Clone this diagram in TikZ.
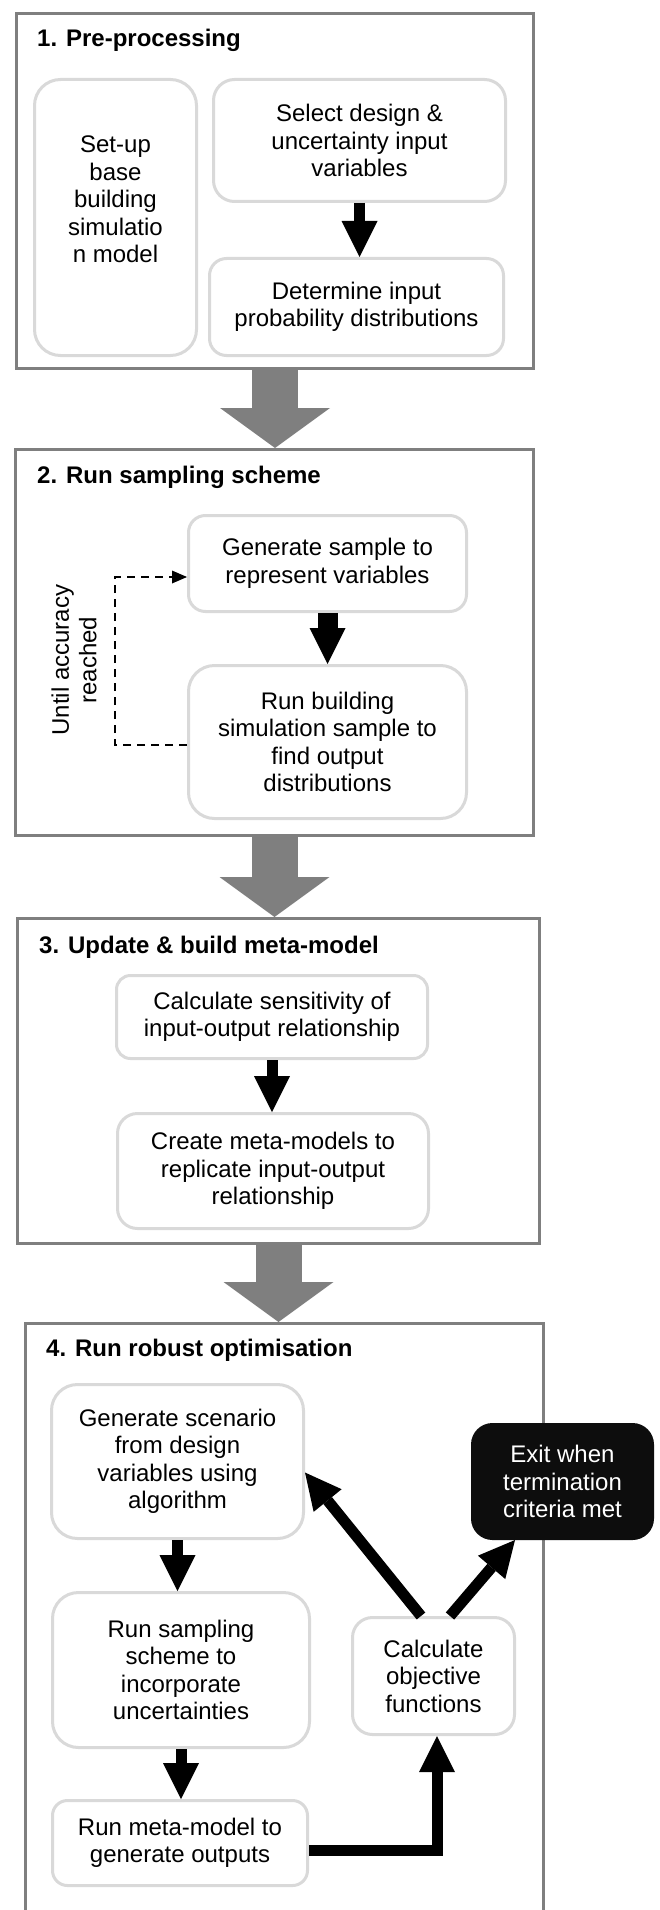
\documentclass[tikz,border=0pt]{standalone}
\usepackage{fontspec}
\setmainfont{Liberation Sans}
\usepackage{tikz}
\usetikzlibrary{calc,arrows.meta,positioning}
\definecolor{framex}{HTML}{7F7F7F}
\definecolor{edgex}{HTML}{D9D9D9}
\definecolor{darkx}{HTML}{0D0D0D}
\tikzset{
  stage/.style={draw=framex,line width=3pt,fill=white,inner sep=0pt},
  hd/.style={anchor=base west,inner sep=0pt,font=\fontsize{24}{27.5}\selectfont\bfseries},
  pb/.style={draw=edgex,line width=3pt,fill=white,align=center,inner sep=0pt},
  xb/.style={draw=darkx,fill=darkx,line width=3pt,text=white,align=center,inner sep=0pt},
  ga/.style={-{Triangle[length=40pt,width=110pt,line width=0pt]},line width=46pt,framex},
  ba/.style={-{Triangle[length=36pt,width=36pt,line width=0pt]},line width=11pt},
  da/.style={-{Triangle[length=15pt,width=13pt,line width=0pt]},line width=2pt,dash pattern=on 8pt off 6pt}
}

\begin{document}
\begin{tikzpicture}[x=1pt,y=-1pt,font=\fontsize{24}{27.5}\selectfont]
\useasboundingbox (0,0) rectangle (660,1910);
\fill[white] (0,0) rectangle (660,1910);
\clip (0,0) rectangle (660,1910);

\node[stage,minimum width=517pt,minimum height=355pt] (s1) at (275,191) {};
\node[stage,minimum width=518pt,minimum height=386pt] (s2) at (274.5,642.5) {};
\node[stage,minimum width=522pt,minimum height=325pt] (s3) at (278.5,1081) {};
\node[stage,minimum width=518pt,minimum height=605pt] (s4) at (284.5,1626) {};
\node[hd] (t1) at (37,47) {1. Pre-processing};
\node[hd] (t2) at (37,483) {2. Run sampling scheme};
\node[hd] (t3) at (39,953) {3. Update \& build meta-model};
\node[hd] (t4) at (46,1356) {4. Run robust optimisation};

\node[pb,rounded corners=26pt,minimum width=162pt,minimum height=276pt] (setup) at (115.5,217.5) {};
\node[align=center,inner sep=0pt] (setupt) at ([yshift=18pt]setup.center) {Set-up\\base\\building\\simulatio\\n model};
\node[pb,rounded corners=21pt,minimum width=292pt,minimum height=122pt] (select) at (359.5,140.5) {Select design \&\\uncertainty input\\variables};
\node[pb,rounded corners=17pt,minimum width=294pt,minimum height=97pt] (determ) at (356.5,307) {Determine input\\probability distributions};

\node[pb,rounded corners=17pt,minimum width=278pt,minimum height=96pt] (gensamp) at (327.5,563.5) {Generate sample to\\represent variables};
\node[pb,rounded corners=26pt,minimum width=278pt,minimum height=153pt] (runsim) at (327.5,742) {Run building\\simulation sample to\\find output\\distributions};
\node[rotate=90,align=center,inner sep=0pt] (acc) at (74,660) {Until accuracy\\reached};

\node[pb,rounded corners=14pt,minimum width=311pt,minimum height=83pt] (sens) at (272,1017) {Calculate sensitivity of\\input-output relationship};
\node[pb,rounded corners=20pt,minimum width=311pt,minimum height=115pt] (meta) at (273,1171) {Create meta-models to\\replicate input-output\\relationship};

\node[pb,rounded corners=26pt,minimum width=252pt,minimum height=154pt] (scen) at (177.5,1461.5) {Generate scenario\\from design\\variables using\\algorithm};
\node[pb,rounded corners=26pt,minimum width=257pt,minimum height=155pt] (samp) at (181,1670) {Run sampling\\scheme to\\incorporate\\uncertainties};
\node[pb,rounded corners=15pt,minimum width=255pt,minimum height=85pt] (runmm) at (180,1843) {Run meta-model to\\generate outputs};
\node[pb,rounded corners=20pt,minimum width=162pt,minimum height=117pt] (objf) at (433.5,1676) {Calculate\\objective\\functions};
\node[xb,rounded corners=20pt,minimum width=180pt,minimum height=114pt] (exitc) at (562.5,1481.5) {Exit when\\termination\\criteria met};

\foreach \p/\q in {s1/s2,s2/s3,s3/s4}{\draw[ga] (\p.south) -- (\p.south |- \q.north);}
\foreach \p/\q in {select/determ,sens/meta,scen/samp,samp/runmm}{\draw[ba] (\p.south) -- (\p.south |- \q.north);}
\draw[ba,line width=20pt] (gensamp.south) -- (runsim.north);
\draw[da] ([yshift=-3pt]runsim.west) -- ++(-72,0) |- ([yshift=-13.5pt]gensamp.west);
\draw[ba] ([yshift=-7pt]runmm.east) -| ([xshift=3.5pt]objf.south);
\draw[ba] ([xshift=-12.5pt]objf.north) -- ([yshift=-11pt]scen.east);
\draw[ba] ([xshift=16.5pt]objf.north) -- ([xshift=-47.5pt]exitc.south);
\end{tikzpicture}
\end{document}
